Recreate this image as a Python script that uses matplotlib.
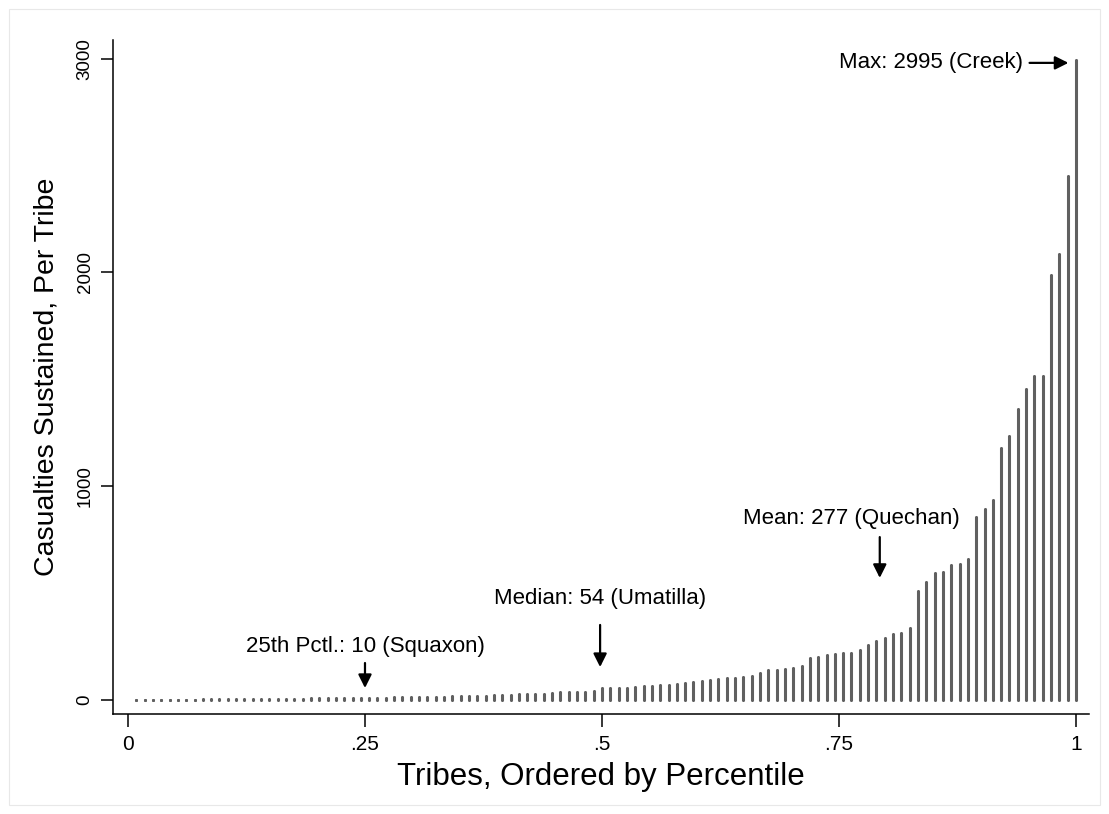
import matplotlib
matplotlib.use("Agg")
import matplotlib.pyplot as plt
from matplotlib.patches import Rectangle

plt.rcParams['font.family'] = ['Liberation Sans', 'DejaVu Sans']

# Casualties per tribe, sorted ascending
casualties = [
    1, 1, 1, 1, 2, 2, 2, 2, 3, 3,
    3, 3, 4, 4, 4, 4, 5, 5, 6, 6,
    6, 7, 7, 8, 8, 9, 9, 10, 10, 11,
    11, 12, 12, 13, 14, 15, 15, 16, 17, 18,
    19, 20, 21, 22, 23, 25, 26, 27, 28, 30,
    33, 36, 36, 37, 39, 42, 54, 55, 56, 58,
    61, 64, 67, 70, 70, 73, 79, 83, 89, 94,
    97, 105, 105, 109, 112, 125, 140, 142, 145, 150,
    160, 198, 203, 210, 215, 218, 222, 232, 255, 277,
    288, 310, 315, 338, 510, 550, 595, 600, 630, 635,
    660, 855, 895, 935, 1180, 1235, 1360, 1455, 1515, 1515,
    1990, 2085, 2450, 2995,
]
n_tribes = len(casualties)
percentile = [(i + 1) / n_tribes for i in range(n_tribes)]

xticks = [0, 0.25, 0.5, 0.75, 1]
xtick_labels = ["0", ".25", ".5", ".75", "1"]
yticks = [0, 1000, 2000, 3000]
ytick_labels = ["0", "1000", "2000", "3000"]

# (text, text xy, arrow tail, arrow head, horizontal alignment)
notes = [
    ("25th Pctl.: 10 (Squaxon)", (0.25, 248), (0.25, 173), (0.25, 56), "center"),
    ("Median: 54 (Umatilla)", (0.498, 477), (0.498, 351), (0.498, 154), "center"),
    ("Mean: 277 (Quechan)", (0.763, 847), (0.793, 762), (0.793, 571), "center"),
    ("Max: 2995 (Creek)", (0.944, 2980), (0.951, 2980), (0.992, 2980), "right"),
]

W, H = 1109, 814
bar_color = '#606060'
fig = plt.figure(figsize=(W / 100, H / 100), dpi=100)
fig.patches.append(Rectangle((9 / W, 9 / H), (W - 18) / W, (H - 18) / H,
                             transform=fig.transFigure, fill=False,
                             edgecolor='#e8e8e8', linewidth=0.8))

ax = fig.add_axes([113 / W, 100 / H, (1089 - 113) / W, (714 - 40) / H])

# spikes with rounded ends (markers stand in for the round caps)
ax.vlines(percentile, 0, casualties, color=bar_color, linewidth=2.2)
ax.plot(percentile, casualties, 'o', color=bar_color, ms=2.2, mew=0)
ax.plot(percentile, [0] * n_tribes, 'o', color=bar_color, ms=2.2, mew=0)

for text, txy, tail, head, ha in notes:
    ax.text(txy[0], txy[1], text, ha=ha, va='center', fontsize=16)
    ax.annotate("", xy=head, xytext=tail,
                arrowprops=dict(arrowstyle='-|>,head_length=0.8,head_width=0.4',
                                color='black', lw=1.6, shrinkA=0, shrinkB=0))

ax.set_xlim(-0.0158, 1.0137)
ax.set_ylim(-65.5, 3087)
ax.set_xticks(xticks)
ax.set_xticklabels(xtick_labels, fontsize=15)
ax.set_yticks(yticks)
ax.set_yticklabels(ytick_labels, rotation=90, va='center', fontsize=13.5)

for side in ['top', 'right']:
    ax.spines[side].set_visible(False)
for side in ['left', 'bottom']:
    ax.spines[side].set_linewidth(1.1)
ax.tick_params(axis='both', length=9, width=1.1)
ax.tick_params(axis='x', pad=6)
ax.tick_params(axis='y', pad=5)

ax.set_xlabel("Tribes, Ordered by Percentile", fontsize=22.5, labelpad=6)
ax.set_ylabel("Casualties Sustained, Per Tribe", fontsize=20.5, labelpad=12)

fig.savefig("out.png", dpi=100)
